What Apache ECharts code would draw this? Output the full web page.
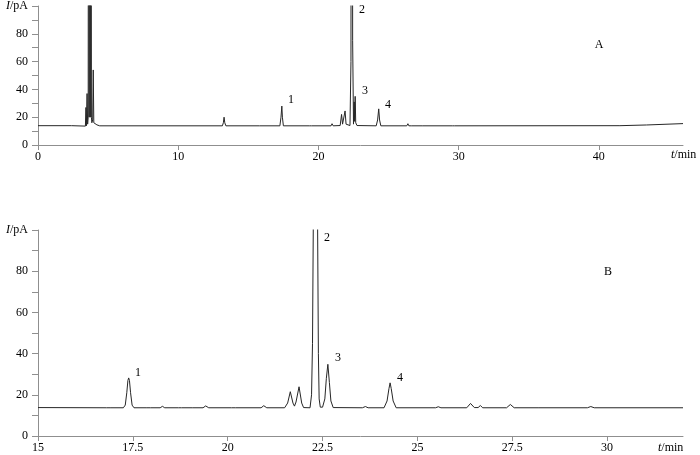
<!DOCTYPE html>
<html>
<head>
<meta charset="utf-8">
<script src="https://cdn.jsdelivr.net/npm/echarts@6.0.0/dist/echarts.min.js"></script>
<style>
  html, body { margin: 0; padding: 0; background: #fff; }
  #chart { width: 700px; height: 455px; }
</style>
</head>
<body>
<div id="chart"></div>
<script>
// chromatogram A: full run, [t/min, I/pA]
var traceA = [
  [0, 13.9], [2.4, 13.9], [2.45, 13.6], [3.38, 13.6], [3.42, 27], [3.45, 13.8], [3.48, 14], [3.5, 37], [3.54, 15],
  [3.58, 20], [3.61, 600], [3.65, 20], [3.69, 600], [3.73, 20], [3.77, 600], [3.81, 20], [3.84, 16],
  [3.9, 18], [3.94, 54], [3.98, 16], [4.05, 15.5], [4.12, 16.5], [4.2, 14.5], [4.4, 13.8],
  [13.15, 13.8], [13.22, 16], [13.27, 20], [13.32, 16], [13.4, 13.8],
  [15.8, 13.8], [17.25, 13.8], [17.33, 20], [17.39, 28], [17.43, 20], [17.5, 13.8],
  [19.35, 13.8], [19.42, 15.2], [19.5, 13.8], [20.9, 13.8], [20.97, 15.3], [21.05, 13.8],
  [21.55, 14], [21.65, 22], [21.72, 15], [21.82, 16], [21.9, 24.5], [21.97, 15],
  [22.25, 14], [22.32, 60], [22.38, 900], [22.44, 75], [22.5, 15],
  [22.52, 16], [22.55, 31], [22.58, 17], [22.62, 35], [22.66, 16], [22.75, 14],
  [24.12, 13.8], [24.22, 18], [24.3, 26], [24.36, 18], [24.45, 13.8],
  [26.3, 13.8], [26.38, 15.3], [26.45, 13.8], [26.62, 13.8], [26.67, 14.5], [26.75, 13.8],
  [27.4, 13.8], [27.45, 14.6], [27.5, 13.8], [29.55, 13.8], [29.6, 14.4], [29.7, 13.8],
  [41.5, 13.9], [43.4, 14.4], [43.5, 15], [46, 15.4]
];

// chromatogram B: expanded 15-32 min, [t/min, I/pA]
var traceB = [
  [15, 13.8], [16.8, 13.7], [16.85, 14.3], [16.9, 13.7], [17.25, 13.7], [17.3, 15], [17.34, 21], [17.37, 27],
  [17.39, 28.2], [17.41, 27], [17.44, 21], [17.48, 15], [17.53, 13.7],
  [17.87, 13.7], [17.92, 14.3], [17.97, 13.7], [18.22, 13.7], [18.28, 14.4], [18.34, 13.7],
  [18.7, 13.7], [18.74, 14], [18.78, 13.7], [18.98, 13.7], [19.03, 14], [19.08, 13.7],
  [19.35, 13.7], [19.42, 14.6], [19.5, 13.7], [20.1, 13.7], [20.15, 14.2], [20.2, 13.7],
  [20.88, 13.7], [20.95, 14.7], [21.03, 13.7],
  [21.5, 13.7], [21.58, 16], [21.65, 21.5], [21.72, 16], [21.76, 14.5], [21.8, 16.5], [21.88, 23.9],
  [21.95, 16], [22.0, 13.8],
  [22.17, 13.7], [22.21, 20], [22.235, 45], [22.255, 100], [22.31, 1500], [22.37, 100], [22.39, 40],
  [22.41, 18], [22.44, 14],
  [22.5, 14], [22.56, 18], [22.6, 28], [22.64, 34.8], [22.68, 26], [22.72, 17], [22.78, 13.8],
  [23.55, 13.7], [23.63, 14.3], [23.7, 13.7],
  [24.12, 13.7], [24.2, 17], [24.25, 23], [24.28, 25.8], [24.31, 23], [24.36, 17], [24.44, 13.7],
  [25.48, 13.7], [25.55, 14.2], [25.62, 13.7],
  [26.3, 13.7], [26.4, 15.8], [26.5, 13.8], [26.6, 13.8], [26.66, 14.8], [26.72, 13.7],
  [27.35, 13.7], [27.45, 15.3], [27.55, 13.7], [28.18, 13.7], [28.2, 14.2], [28.22, 13.7],
  [29.48, 13.7], [29.57, 14.3], [29.66, 13.7], [32, 13.7]
];

var ticksXA = [0, 10, 20, 30, 40];
var ticksXB = [15, 17.5, 20, 22.5, 25, 27.5, 30];
var ticksY = [0, 10, 20, 30, 40, 50, 60, 70, 80, 90, 100];
var labelsY = [0, 20, 40, 60, 80, 100];

var font = '"Liberation Serif", "DejaVu Serif", serif';
var axisGray = '#8f8f8f';
var traceColor = '#262626';

var myChart = echarts.init(document.getElementById('chart'));

function xAxisFor(grid, min, max, ticks) {
  return {
    type: 'value', gridIndex: grid, min: min, max: max,
    axisLine: { show: true, onZero: false, lineStyle: { color: axisGray, width: 1 } },
    axisTick: { show: true, length: 5, customValues: ticks, lineStyle: { color: axisGray } },
    axisLabel: { customValues: ticks, margin: 6, color: '#000', fontFamily: font, fontSize: 12 },
    splitLine: { show: false }
  };
}

function yAxisFor(grid) {
  return {
    type: 'value', gridIndex: grid, min: 0, max: 100,
    axisLine: { show: true, lineStyle: { color: axisGray, width: 1 } },
    axisTick: { show: true, length: 6, customValues: ticksY, lineStyle: { color: axisGray } },
    axisLabel: {
      customValues: labelsY, margin: 10, color: '#000', fontFamily: font, fontSize: 12,
      formatter: function (v) { return v === 100 ? '{i|I}/pA' : String(v); },
      rich: { i: { fontStyle: 'italic', fontFamily: font, fontSize: 12, color: '#000' } }
    },
    splitLine: { show: false }
  };
}

function txt(x, y, s, align) {
  return {
    type: 'text', x: x, y: y,
    style: { text: s, fill: '#000', font: '12px ' + font, textAlign: align || 'center', textVerticalAlign: 'middle' }
  };
}

function axisName(x, y) {
  return {
    type: 'text', x: x, y: y,
    style: {
      text: '{i|t}/min', fill: '#000', font: '12px ' + font, textAlign: 'left', textVerticalAlign: 'middle',
      rich: { i: { fontStyle: 'italic', fontFamily: font, fontSize: 12 } }
    }
  };
}

var option = {
  animation: false,
  backgroundColor: '#fff',
  grid: [
    { left: 38, right: 17, top: 5, height: 140 },
    { left: 38, right: 17, top: 230, height: 206 }
  ],
  xAxis: [xAxisFor(0, 0, 46, ticksXA), xAxisFor(1, 15, 32, ticksXB)],
  yAxis: [yAxisFor(0), yAxisFor(1)],
  series: [
    {
      type: 'line', xAxisIndex: 0, yAxisIndex: 0, data: traceA, showSymbol: false, symbol: 'none',
      clip: true, lineStyle: { color: traceColor, width: 1 }
    },
    {
      type: 'line', xAxisIndex: 1, yAxisIndex: 1, data: traceB, showSymbol: false, symbol: 'none',
      clip: true, lineStyle: { color: traceColor, width: 1 }
    }
  ],
  graphic: [
    txt(291, 100, '1'), txt(362, 10, '2'), txt(365, 91, '3'), txt(388, 105, '4'), txt(599, 45, 'A'),
    txt(138, 373, '1'), txt(327, 238, '2'), txt(338, 358, '3'), txt(400, 378, '4'), txt(608, 272, 'B'),
    axisName(671, 155), axisName(658, 448)
  ]
};
myChart.setOption(option);
</script>
</body>
</html>
